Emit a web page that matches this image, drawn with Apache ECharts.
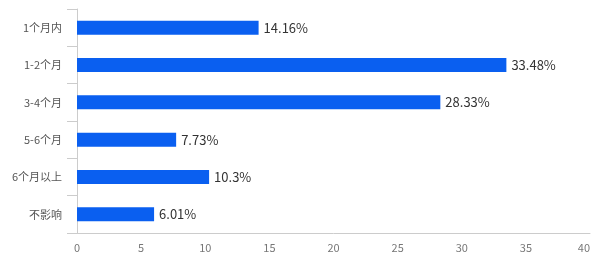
<!DOCTYPE html>
<html><head><meta charset="utf-8">
<script src="https://cdn.jsdelivr.net/npm/echarts@6/dist/echarts.min.js"></script>
<style>html,body{margin:0;padding:0;background:#fff}#c{width:600px;height:272px}</style>
</head><body><div id="c"></div>
<script>
const categories = ['1个月内','1-2个月','3-4个月','5-6个月','6个月以上','不影响'];
const values = [14.16, 33.48, 28.33, 7.73, 10.3, 6.01];
const xTicks = [0, 5, 10, 15, 20, 25, 30, 35, 40];

const chart = echarts.init(document.getElementById('c'));
chart.setOption({
  animation: false,
  textStyle: { fontFamily: '"Noto Sans CJK SC", "Noto Sans", sans-serif' },
  grid: { left: 77, right: 10, top: 9, bottom: 39, containLabel: false },
  xAxis: {
    type: 'value', min: xTicks[0], max: xTicks[xTicks.length - 1], interval: 5,
    axisLine: { show: true, lineStyle: { color: '#cccccc' } },
    axisTick: { show: false },
    splitLine: { show: false },
    axisLabel: { color: '#777', fontSize: 11, margin: 9, alignMaxLabel: 'right' }
  },
  yAxis: {
    type: 'category', inverse: true, data: categories,
    axisLine: { show: true, lineStyle: { color: '#cccccc' } },
    axisTick: { show: true, length: 10, lineStyle: { color: '#cccccc' } },
    axisLabel: { color: '#555', fontSize: 11, margin: 15 }
  },
  series: [{
    type: 'bar', data: values, barWidth: 14,
    itemStyle: { color: '#0a5ff0' },
    label: { show: true, position: 'right', distance: 5, color: '#333', fontSize: 13,
      formatter: p => p.value + '%' }
  }]
});
</script></body></html>
